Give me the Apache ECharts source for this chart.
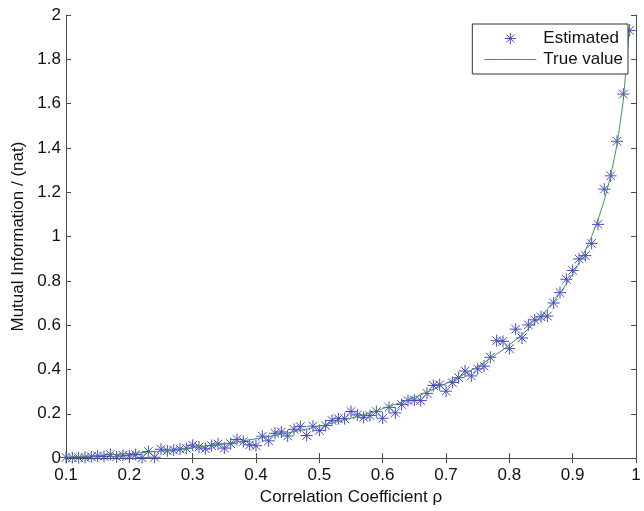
<!DOCTYPE html>
<html>
<head>
<meta charset="utf-8">
<script src="https://cdn.jsdelivr.net/npm/echarts@6/dist/echarts.min.js"></script>
<style>html,body{margin:0;padding:0;background:#fff}#c{width:644px;height:511px}</style>
</head>
<body>
<div id="c"></div>
<script>
// Correlation coefficients (x)
var rho = [0.10,0.11,0.12,0.13,0.14,0.15,0.16,0.17,0.18,0.19,
           0.20,0.21,0.22,0.23,0.24,0.25,0.26,0.27,0.28,0.29,
           0.30,0.31,0.32,0.33,0.34,0.35,0.36,0.37,0.38,0.39,
           0.40,0.41,0.42,0.43,0.44,0.45,0.46,0.47,0.48,0.49,
           0.50,0.51,0.52,0.53,0.54,0.55,0.56,0.57,0.58,0.59,
           0.60,0.61,0.62,0.63,0.64,0.65,0.66,0.67,0.68,0.69,
           0.70,0.71,0.72,0.73,0.74,0.75,0.76,0.77,0.78,0.79,
           0.80,0.81,0.82,0.83,0.84,0.85,0.86,0.87,0.88,0.89,
           0.90,0.91,0.92,0.93,0.94,0.95,0.96,0.97,0.98,0.99];
// Estimated mutual information
var estimated = [0.003,0.002,0.002,0.003,0.006,0.010,0.007,0.016,0.006,0.013,
                 0.010,0.016,0.002,0.030,0.004,0.040,0.033,0.036,0.041,0.044,
                 0.058,0.050,0.042,0.056,0.064,0.045,0.065,0.084,0.075,0.060,
                 0.056,0.099,0.078,0.112,0.118,0.100,0.130,0.142,0.102,0.144,
                 0.125,0.147,0.170,0.178,0.178,0.210,0.195,0.184,0.192,0.210,
                 0.180,0.229,0.204,0.242,0.260,0.262,0.260,0.292,0.328,0.331,
                 0.302,0.341,0.363,0.393,0.371,0.403,0.415,0.455,0.530,0.527,
                 0.494,0.582,0.542,0.601,0.624,0.638,0.641,0.700,0.747,0.807,
                 0.847,0.899,0.914,0.969,1.055,1.214,1.274,1.430,1.643,1.930];
// True value curve
var trueValue = [0.00503,0.00609,0.00725,0.00852,0.00990,0.01138,0.01297,0.01466,0.01647,0.01838,
                 0.02041,0.02255,0.02481,0.02718,0.02966,0.03227,0.03500,0.03785,0.04082,0.04392,
                 0.04716,0.05052,0.05402,0.05765,0.06142,0.06534,0.06940,0.07361,0.07798,0.08250,
                 0.08718,0.09202,0.09704,0.10222,0.10759,0.11314,0.11887,0.12481,0.13094,0.13728,
                 0.14384,0.15062,0.15763,0.16488,0.17237,0.18013,0.18815,0.19645,0.20504,0.21393,
                 0.22314,0.23269,0.24258,0.25284,0.26348,0.27452,0.28600,0.29792,0.31032,0.32323,
                 0.33667,0.35069,0.36532,0.38061,0.39659,0.41334,0.43090,0.44935,0.46876,0.48922,
                 0.51083,0.53370,0.55798,0.58382,0.61141,0.64096,0.67276,0.70714,0.74450,0.78535,
                 0.83037,0.88042,0.93670,1.00087,1.07536,1.16395,1.27297,1.41427,1.61442,1.95845];

var seriesNames = ['Estimated', 'True value'];
var xTitle = 'Correlation Coefficient ρ';
var yTitle = 'Mutual Information / (nat)';

function pairs(xs, ys){ return xs.map(function(x,i){ return [x, ys[i]]; }); }

var star = 'path://M0,-6L0,6M-6,0L6,0M-4.3,-4.3L4.3,4.3M-4.3,4.3L4.3,-4.3';
var lineIcon = 'path://M0,0L50,0L50,1.2L0,1.2Z';
var blue = '#4848c4';
var green = '#3f9755';
var font = 'Liberation Sans, Arial, Helvetica, sans-serif';
var fs = 17;
var axisCol = '#4a4a4a';

var chart = echarts.init(document.getElementById('c'));
chart.setOption({
  animation: false,
  backgroundColor: '#fff',
  grid: { left: 66, right: 8, top: 15, bottom: 48, containLabel: false },
  legend: {
    right: 16, top: 24, orient: 'vertical', align: 'left',
    backgroundColor: '#fff', borderColor: '#333', borderWidth: 1,
    padding: [6, 5, 6, 12], itemGap: 4, itemWidth: 52, itemHeight: 11,
    textStyle: { fontFamily: font, fontSize: fs, color: '#111', padding: [0, 0, 0, 2] },
    data: [
      { name: seriesNames[0], icon: star, itemStyle: { color: 'none', borderColor: blue, borderWidth: 1 } },
      { name: seriesNames[1], icon: lineIcon, itemStyle: { color: green, borderWidth: 0 } }
    ]
  },
  xAxis: [{
    type: 'value', min: 0.1, max: 1, interval: 0.1,
    name: xTitle, nameLocation: 'middle', nameGap: 26,
    nameTextStyle: { fontFamily: font, fontSize: fs, color: '#111' },
    axisLine: { show: true, lineStyle: { color: axisCol, width: 1 } },
    axisTick: { show: true, inside: true, length: 5, lineStyle: { color: axisCol } },
    axisLabel: { fontFamily: font, fontSize: fs, color: '#111', margin: 9 },
    splitLine: { show: false }
  }, {
    type: 'value', min: 0.1, max: 1, interval: 0.1, position: 'top',
    axisLine: { show: true, lineStyle: { color: axisCol, width: 1 } },
    axisTick: { show: true, inside: true, length: 5, lineStyle: { color: axisCol } },
    axisLabel: { show: false }, splitLine: { show: false }
  }],
  yAxis: [{
    type: 'value', min: 0, max: 2, interval: 0.2,
    name: yTitle, nameLocation: 'middle', nameGap: 37,
    nameTextStyle: { fontFamily: font, fontSize: fs, color: '#111' },
    axisLine: { show: true, lineStyle: { color: axisCol, width: 1 } },
    axisTick: { show: true, inside: true, length: 5, lineStyle: { color: axisCol } },
    axisLabel: { fontFamily: font, fontSize: fs, color: '#111', margin: 5 },
    splitLine: { show: false }
  }, {
    type: 'value', min: 0, max: 2, interval: 0.2, position: 'right',
    axisLine: { show: true, lineStyle: { color: axisCol, width: 1 } },
    axisTick: { show: true, inside: true, length: 5, lineStyle: { color: axisCol } },
    axisLabel: { show: false }, splitLine: { show: false }
  }],
  series: [{
    name: seriesNames[0], type: 'scatter',
    symbol: star, symbolSize: 12,
    itemStyle: { color: 'none', borderColor: blue, borderWidth: 1, opacity: 1 },
    data: pairs(rho, estimated)
  }, {
    name: seriesNames[1], type: 'line',
    symbol: 'none', showSymbol: false, smooth: false,
    lineStyle: { color: green, width: 1 },
    itemStyle: { color: green },
    data: pairs(rho, trueValue), z: 3
  }]
});
</script>
</body>
</html>
